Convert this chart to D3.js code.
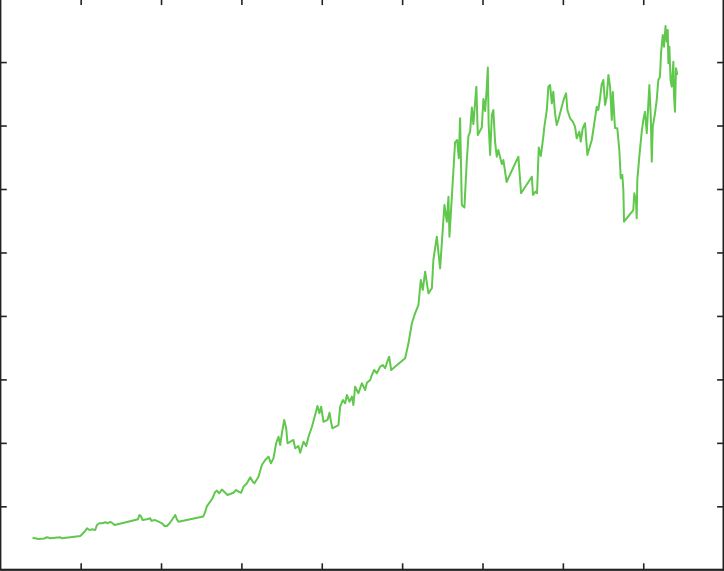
<!DOCTYPE html>
<html>
<head>
<meta charset="utf-8">
<script src="https://cdn.jsdelivr.net/npm/d3@7"></script>
<style>
  html, body { margin: 0; padding: 0; background: #ffffff; }
  svg { display: block; }
</style>
</head>
<body>
<div id="chart"></div>
<script>
// ---- data (arbitrary units) ----
const xValues = [32.1,38.1,43.8,46.5,49.8,59.7,61.4,79.6,81.6,83.9,86.3,88.9,91.2,94.5,96.2,98.5,101.8,104.5,107.2,109.5,111.7,113.7,134.3,137.0,138.6,140.3,141.6,146.0,149.3,150.2,154.2,157.5,160.9,163.5,165.9,168.5,170.8,174.1,175.8,177.4,202.0,204.0,205.7,209.0,211.2,213.9,215.6,217.9,220.6,223.9,226.2,232.1,234.8,237.1,239.8,242.1,245.5,248.8,251.4,253.0,257.0,260.4,263.7,267.0,269.4,271.9,274.6,276.9,278.6,280.3,282.6,284.6,285.9,291.8,293.5,296.8,298.5,301.8,304.5,306.8,310.2,313.4,315.7,317.7,319.4,321.7,325.7,327.7,329.4,330.6,336.6,338.3,341.0,343.3,345.0,347.6,350.0,351.5,353.2,356.5,359.9,363.2,364.9,368.2,369.9,372.1,374.8,378.1,380.8,383.1,384.8,387.1,389.1,403.0,406.3,409.7,412.9,416.2,418.6,420.6,422.9,426.2,429.6,431.1,434.5,437.8,439.5,442.1,444.5,446.1,447.1,449.5,452.7,454.7,456.4,457.7,459.4,462.0,464.4,466.0,467.7,469.4,470.9,473.9,475.3,479.3,480.9,482.6,484.1,485.3,486.1,487.6,489.3,490.8,492.5,494.2,495.8,499.2,500.8,504.0,515.7,518.4,529.1,530.3,532.8,534.3,536.0,538.1,540.6,541.6,544.0,545.6,547.3,549.0,550.5,552.2,553.9,555.5,558.9,561.2,563.2,564.5,567.2,569.9,572.1,573.8,576.4,577.8,579.8,582.1,584.4,588.8,592.0,593.7,595.3,597.0,598.7,600.3,602.0,603.7,605.3,607.0,608.7,609.7,611.9,614.2,616.2,617.6,619.2,620.2,620.9,630.1,631.1,632.8,633.5,634.1,636.1,638.5,640.1,641.8,643.5,645.1,646.1,647.5,648.5,649.5,651.7,653.4,655.0,656.7,657.7,659.4,660.7,662.2,663.4,664.4,665.0,666.0,667.2,668.4,670.0,670.6,671.6,672.6,673.9];
const yValues = [32.4,31.1,31.6,32.8,31.8,32.8,31.8,34.1,36.1,38.4,41.8,40.1,40.8,40.1,45.2,46.9,46.9,47.9,46.9,48.5,46.9,45.2,50.2,50.9,55.3,53.5,50.2,50.9,51.9,49.5,50.2,48.5,46.9,44.2,44.2,46.9,50.2,55.3,50.9,48.5,53.7,58.6,64.3,68.7,72.1,78.5,79.8,77.1,81.0,77.7,75.4,77.7,80.5,78.8,77.7,83.8,87.2,93.3,88.8,87.2,93.9,105.7,110.7,114.1,107.4,112.4,127.6,134.2,125.8,137.6,151.1,142.7,127.6,130.9,122.5,124.8,118.1,129.2,124.8,134.2,144.3,156.1,165.2,157.8,164.5,149.3,151.1,158.4,148.3,142.7,146.0,164.5,171.2,167.9,176.3,169.5,174.6,166.2,184.6,178.0,188.1,181.3,188.7,191.4,196.4,201.5,198.2,204.8,206.5,203.2,208.8,214.9,201.5,213.3,228.4,248.6,258.7,267.0,292.2,282.2,300.6,278.8,283.9,312.4,335.9,304.0,329.2,367.9,351.0,376.2,335.9,376.2,430.9,433.4,415.0,455.3,367.9,365.3,413.2,437.4,441.8,466.2,449.5,487.2,438.5,446.0,474.8,462.7,483.8,506.5,449.5,418.3,458.6,463.7,431.7,416.6,423.3,409.2,413.2,391.1,416.6,379.7,396.4,378.0,381.3,379.7,425.8,417.3,437.4,446.8,463.7,487.2,488.9,470.4,482.1,460.3,448.5,453.6,467.0,475.5,480.5,463.7,455.3,451.9,446.8,435.1,441.8,431.7,445.2,450.3,418.3,433.4,455.3,467.0,463.7,475.5,489.9,493.9,468.7,477.1,499.0,486.9,453.6,481.8,445.5,445.2,423.3,394.8,398.1,383.0,351.0,362.8,379.7,371.2,354.5,393.1,416.6,441.8,453.6,461.9,440.2,470.4,488.9,456.9,411.5,446.8,460.3,473.7,493.9,497.2,520.8,539.3,527.5,548.4,532.5,544.3,510.8,527.5,493.9,487.2,512.4,478.8,461.9,505.7,499.0];
const xTicks = [80, 160, 240, 320, 400, 480, 560, 640];
const yTicks = [64, 128, 192, 256, 320, 384, 448, 512];
const xDomain = [0, 720];
const yDomain = [0, 576];

// ---- drawing ----
const W = 724, H = 571;
const padL = 0.3, padR = 723.6, padT = -1.4, padB = 569.8;

const svg = d3.select("#chart").append("svg")
  .attr("width", W).attr("height", H);

const x = d3.scaleLinear().domain(xDomain).range([padL, padR]);
const y = d3.scaleLinear().domain(yDomain).range([padB, padT]);

const data = xValues.map((v, i) => ({ x: v, y: yValues[i] }));

const line = d3.line().x(d => x(d.x)).y(d => y(d.y));

svg.append("path")
  .datum(data)
  .attr("d", line)
  .attr("fill", "none")
  .attr("stroke", "#60c84c")
  .attr("stroke-width", 2)
  .attr("stroke-linejoin", "round");

const tk = 6.5;
function styleAxis(g) {
  g.select(".domain").remove();
  g.selectAll(".tick line").attr("stroke", "#222").attr("stroke-width", 1.6);
  g.selectAll(".tick text").remove();
}
svg.append("g").attr("transform", `translate(0,${padB})`)
  .call(d3.axisBottom(x).tickValues(xTicks).tickSize(-tk).tickFormat("")).call(styleAxis);
svg.append("g").attr("transform", `translate(0,${padT})`)
  .call(d3.axisTop(x).tickValues(xTicks).tickSize(-tk).tickFormat("")).call(styleAxis);
svg.append("g").attr("transform", `translate(${padL},0)`)
  .call(d3.axisLeft(y).tickValues(yTicks).tickSize(-tk).tickFormat("")).call(styleAxis);
svg.append("g").attr("transform", `translate(${padR},0)`)
  .call(d3.axisRight(y).tickValues(yTicks).tickSize(-tk).tickFormat("")).call(styleAxis);

svg.append("rect")
  .attr("x", padL).attr("y", padT)
  .attr("width", padR - padL).attr("height", padB - padT)
  .attr("fill", "none").attr("stroke", "#222").attr("stroke-width", 2.2);
</script>
</body>
</html>
